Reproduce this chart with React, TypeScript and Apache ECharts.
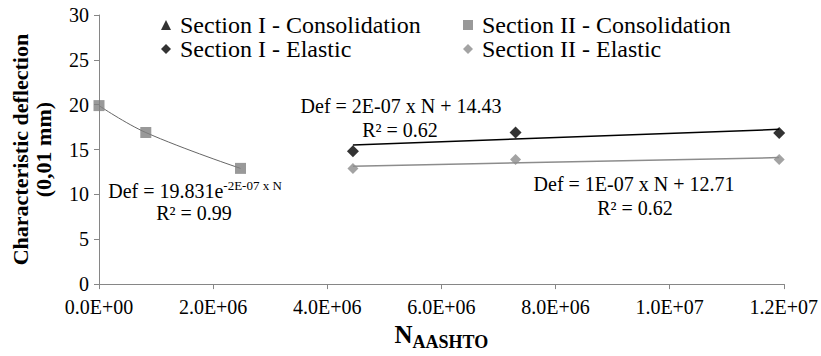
import React, { useEffect, useRef } from "react";
import * as echarts from "echarts";

const xConsolidation = [0, 0.82e6, 2.48e6];
const yConsolidationII = [19.9, 16.9, 12.9];
const xElastic = [4.45e6, 7.3e6, 11.92e6];
const yElasticI = [14.8, 16.9, 16.85];
const yElasticII = [12.9, 13.9, 13.9];
const xTrend = [4.45e6, 11.92e6];
const yTrendI = [15.5, 17.25];
const yTrendII = [13.15, 14.1];

const names = [
  "Section I - Consolidation",
  "Section I - Elastic",
  "Section II - Consolidation",
  "Section II - Elastic",
];

const FONT = "Liberation Serif";

const zip = (xs: number[], ys: number[]) => xs.map((x, i) => [x, ys[i]]);

const fmtSci = (v: number) => {
  if (v === 0) return "0.0E+00";
  const e = Math.floor(Math.log10(v) + 1e-9);
  const m = v / Math.pow(10, e);
  return m.toFixed(1) + "E+" + String(e).padStart(2, "0");
};

export default function App() {
  const ref = useRef<HTMLDivElement>(null);
  useEffect(() => {
    document.body.style.margin = "0";
    if (!ref.current) return;
    const chart = echarts.init(ref.current, undefined, { renderer: "svg" });
    const axisColor = "#868686";
    const legendText = { fontFamily: FONT, fontSize: 24, color: "#000", lineHeight: 24, padding: [0, 0, 0, 4] };
    chart.setOption({
      animation: false,
      textStyle: { fontFamily: FONT },
      grid: { left: 99, right: 36, top: 15, bottom: 71 },
      legend: [
        {
          orient: "vertical",
          left: 156,
          top: 8,
          itemGap: 0,
          itemWidth: 10,
          itemHeight: 10,
          textStyle: legendText,
          data: [
            { name: names[0], icon: "triangle" },
            { name: names[1], icon: "diamond" },
          ],
        },
        {
          orient: "vertical",
          left: 458,
          top: 8,
          itemGap: 0,
          itemWidth: 10,
          itemHeight: 10,
          textStyle: legendText,
          data: [
            { name: names[2], icon: "rect" },
            { name: names[3], icon: "diamond" },
          ],
        },
      ],
      xAxis: {
        type: "value",
        min: 0,
        max: 1.2e7,
        interval: 2e6,
        splitLine: { show: false },
        axisLine: { lineStyle: { color: axisColor } },
        axisTick: { show: true, length: 5, lineStyle: { color: axisColor } },
        axisLabel: { formatter: fmtSci, fontFamily: FONT, fontSize: 20, color: "#000", margin: 13 },
        name: "{n|N}{s|AASHTO}",
        nameLocation: "middle",
        nameGap: 36,
        nameTextStyle: {
          rich: {
            n: { fontFamily: FONT, fontSize: 25, fontWeight: "bold", color: "#000", verticalAlign: "bottom", lineHeight: 26 },
            s: { fontFamily: FONT, fontSize: 18, fontWeight: "bold", color: "#000", verticalAlign: "bottom", lineHeight: 20, padding: [0, 0, -4, 0] },
          },
        },
      },
      yAxis: {
        type: "value",
        min: 0,
        max: 30,
        interval: 5,
        splitLine: { show: false },
        axisLine: { show: true, lineStyle: { color: axisColor } },
        axisTick: { show: true, length: 5, lineStyle: { color: axisColor } },
        axisLabel: { fontFamily: FONT, fontSize: 20, color: "#000", margin: 10 },
        name: "Characteristic deflection\n(0,01 mm)",
        nameLocation: "middle",
        nameRotate: 90,
        nameGap: 44,
        nameTextStyle: { fontFamily: FONT, fontSize: 22, fontWeight: "bold", color: "#000", lineHeight: 23 },
      },
      series: [
        {
          name: "trendCons",
          type: "line",
          data: zip(xConsolidation, yConsolidationII),
          smooth: 0.4,
          showSymbol: false,
          lineStyle: { color: "#666", width: 1 },
          z: 1,
          silent: true,
        },
        {
          name: "trendI",
          type: "line",
          data: zip(xTrend, yTrendI),
          showSymbol: false,
          lineStyle: { color: "#000", width: 1.5 },
          z: 1,
          silent: true,
        },
        {
          name: "trendII",
          type: "line",
          data: zip(xTrend, yTrendII),
          showSymbol: false,
          lineStyle: { color: "#8c8c8c", width: 1.5 },
          z: 1,
          silent: true,
        },
        {
          name: names[0],
          type: "scatter",
          symbol: "triangle",
          symbolSize: 9,
          itemStyle: { color: "#000" },
          data: [],
          z: 3,
        },
        {
          name: names[1],
          type: "scatter",
          symbol: "diamond",
          symbolSize: 12,
          itemStyle: { color: "#000" },
          data: zip(xElastic, yElasticI),
          z: 3,
        },
        {
          name: names[2],
          type: "scatter",
          symbol: "rect",
          symbolSize: 11,
          itemStyle: { color: "#808080" },
          data: zip(xConsolidation, yConsolidationII),
          z: 3,
        },
        {
          name: names[3],
          type: "scatter",
          symbol: "diamond",
          symbolSize: 11,
          itemStyle: { color: "#8c8c8c" },
          data: zip(xElastic, yElasticII),
          z: 3,
        },
      ],
      graphic: [
        {
          type: "text",
          x: 401,
          y: 106,
          style: { text: "Def = 2E-07 x N + 14.43", fontFamily: FONT, fontSize: 20, fill: "#000", textAlign: "center", textVerticalAlign: "middle" },
        },
        {
          type: "text",
          x: 400,
          y: 130,
          style: { text: "R² = 0.62", fontFamily: FONT, fontSize: 20, fill: "#000", textAlign: "center", textVerticalAlign: "middle" },
        },
        {
          type: "text",
          x: 634,
          y: 184,
          style: { text: "Def = 1E-07 x N + 12.71", fontFamily: FONT, fontSize: 20, fill: "#000", textAlign: "center", textVerticalAlign: "middle" },
        },
        {
          type: "text",
          x: 635,
          y: 208,
          style: { text: "R² = 0.62", fontFamily: FONT, fontSize: 20, fill: "#000", textAlign: "center", textVerticalAlign: "middle" },
        },
        {
          type: "text",
          x: 195,
          y: 190,
          style: {
            text: "{a|Def = 19.831e}{s|-2E-07 x N}",
            textAlign: "center",
            textVerticalAlign: "middle",
            rich: {
              a: { fontFamily: FONT, fontSize: 20, fill: "#000", lineHeight: 22, verticalAlign: "bottom" },
              s: { fontFamily: FONT, fontSize: 13, fill: "#000", lineHeight: 22, verticalAlign: "top", padding: [0, 0, 6, 0] },
            },
          },
        },
        {
          type: "text",
          x: 194,
          y: 213,
          style: { text: "R² = 0.99", fontFamily: FONT, fontSize: 20, fill: "#000", textAlign: "center", textVerticalAlign: "middle" },
        },
      ],
    });
    return () => chart.dispose();
  }, []);
  return <div ref={ref} style={{ width: 821, height: 356 }} />;
}
